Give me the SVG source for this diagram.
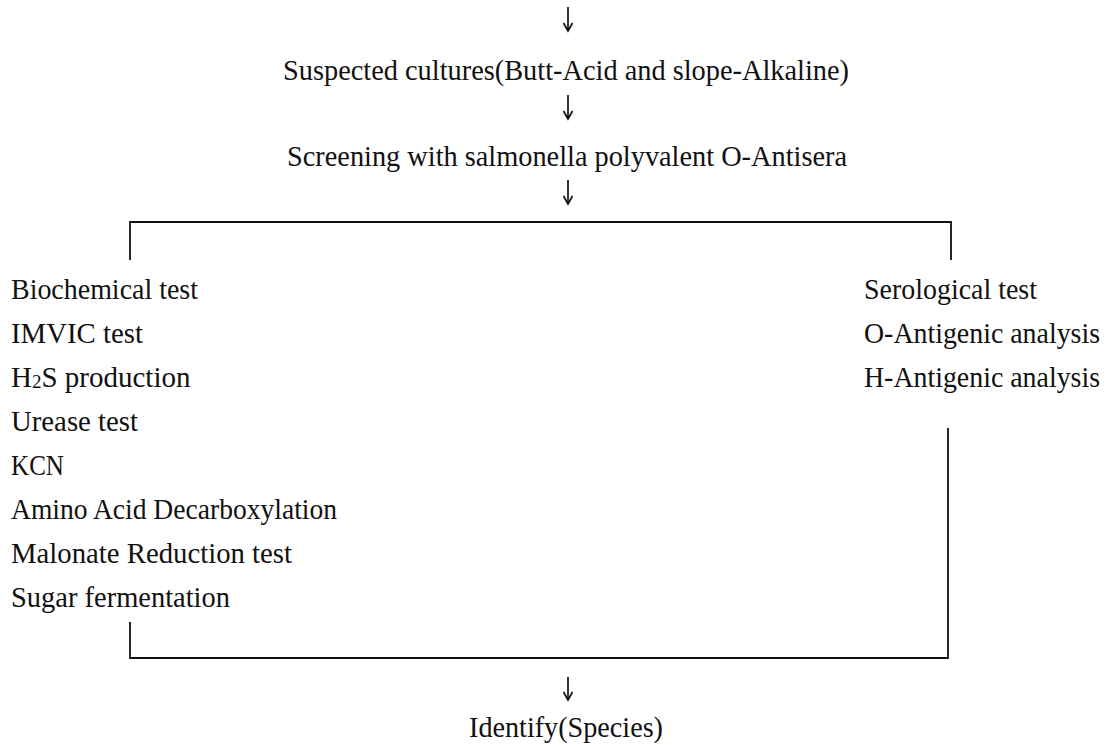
<svg xmlns="http://www.w3.org/2000/svg" width="1108" height="745" viewBox="0 0 1108 745">
<style>
.t{font-family:"Liberation Serif","Times New Roman",serif;font-size:29px;fill:#111;}
.c{text-anchor:middle;}
.ln{stroke:#111;stroke-width:1.8;fill:none;}
.ar{stroke:#111;stroke-width:1.7;fill:none;stroke-linejoin:miter;}
</style>
<rect width="1108" height="745" fill="#fff"/>
<g id="connectors">
<path class="ar" d="M568 7V31M563.5 23L568 31L572.5 23"/>
<path class="ar" d="M568 95V119M563.5 111L568 119L572.5 111"/>
<path class="ar" d="M568 180V204M563.5 196L568 204L572.5 196"/>
<path class="ln" d="M130 260V222H951V260"/>
<path class="ln" d="M130 622V658H948V428"/>
<path class="ar" d="M568 677V700M563.5 692L568 700L572.5 692"/>
</g>
<g id="n-suspected"><text class="t c" x="566" y="80" textLength="566" lengthAdjust="spacingAndGlyphs">Suspected cultures(Butt-Acid and slope-Alkaline)</text></g>
<g id="n-screening"><text class="t c" x="567" y="166" textLength="560" lengthAdjust="spacingAndGlyphs">Screening with salmonella polyvalent O-Antisera</text></g>
<g id="n-biochemical">
<text class="t" x="11" y="299" textLength="187" lengthAdjust="spacingAndGlyphs">Biochemical test</text>
<text class="t" x="11" y="343" textLength="132" lengthAdjust="spacingAndGlyphs">IMVIC test</text>
<text class="t" x="11" y="387">H<tspan font-size="19" dy="1">2</tspan><tspan dy="-1">S production</tspan></text>
<text class="t" x="11" y="431" textLength="127" lengthAdjust="spacingAndGlyphs">Urease test</text>
<text class="t" x="11" y="475" textLength="53" lengthAdjust="spacingAndGlyphs">KCN</text>
<text class="t" x="11" y="519" textLength="326" lengthAdjust="spacingAndGlyphs">Amino Acid Decarboxylation</text>
<text class="t" x="11" y="563" textLength="281" lengthAdjust="spacingAndGlyphs">Malonate Reduction test</text>
<text class="t" x="11" y="607" textLength="219" lengthAdjust="spacingAndGlyphs">Sugar fermentation</text>
</g>
<g id="n-serological">
<text class="t" x="864" y="299" textLength="173" lengthAdjust="spacingAndGlyphs">Serological test</text>
<text class="t" x="864" y="343" textLength="236" lengthAdjust="spacingAndGlyphs">O-Antigenic analysis</text>
<text class="t" x="864" y="387" textLength="236" lengthAdjust="spacingAndGlyphs">H-Antigenic analysis</text>
</g>
<g id="n-identify"><text class="t c" x="566" y="737" textLength="194" lengthAdjust="spacingAndGlyphs">Identify(Species)</text></g>
</svg>
